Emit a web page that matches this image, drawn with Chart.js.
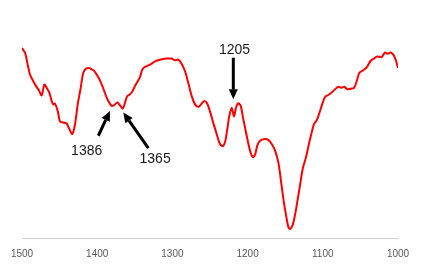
<!DOCTYPE html>
<html>
<head>
<meta charset="utf-8">
<script src="https://cdn.jsdelivr.net/npm/chart.js@4"></script>
<style>
  html, body { margin: 0; padding: 0; background: #fff; }
  #wrap { width: 427px; height: 276px; }
</style>
</head>
<body>
<div id="wrap"><canvas id="chart"></canvas></div>
<script>
// wavenumber (cm-1) and transmittance
const wavenumbers = [
  1500, 1496, 1492.4, 1489.4, 1485, 1480.5, 1477.4, 1473.8, 1470.3, 1467.2,
  1463.7, 1460.5, 1458.4, 1456.1, 1452.5, 1449.5, 1445.1, 1440.6, 1437.1, 1433.1,
  1429.5, 1425.9, 1421.9, 1418.5, 1414.9, 1410.9, 1407.3, 1404.3, 1399.3, 1394.9,
  1390.6, 1387.4, 1383.9, 1380.7, 1377.3, 1373.3, 1369.7, 1366.1, 1363, 1360,
  1356.4, 1353.3, 1349.7, 1346.1, 1343.1, 1340, 1336.4, 1329.8, 1323.1, 1316.7,
  1307.6, 1301, 1296.5, 1292.1, 1287.6, 1283.2, 1278.9, 1274.3, 1269.9, 1265.6,
  1262, 1258, 1254.4, 1250, 1245.6, 1241.1, 1236.7, 1233.1, 1230.1, 1227,
  1224.3, 1221.1, 1218.1, 1215.4, 1212.4, 1209.2, 1205.7, 1201.2, 1196.8, 1193.2,
  1190.2, 1187.1, 1183.5, 1176.9, 1172.5, 1167.9, 1163.5, 1159.2, 1156, 1152.5,
  1148.9, 1145.9, 1143.6, 1140, 1137, 1133.9, 1130.3, 1126.7, 1122.3, 1117.9,
  1114.7, 1111.7, 1108.1, 1105.1, 1101.5, 1097.1, 1092.7, 1088.2, 1083.8, 1079.4,
  1074.9, 1071.4, 1067.4, 1062.9, 1058.5, 1054.9, 1051.4, 1046.9, 1041.6, 1036.3,
  1031.9, 1027.5, 1021.7, 1017.3, 1013.7, 1009.7, 1006.3, 1003.1, 1000
];
const transmittance = [
  87.1, 85.0, 79.5, 75.0, 71.9, 69.2, 67.7, 65.4, 70.4, 68.9,
  66.7, 62.8, 61.3, 61.6, 58.3, 53.5, 53.0, 52.5, 50.0, 47.7,
  52.2, 61.3, 68.9, 75.8, 77.6, 78.0, 77.3, 76.8, 74.2, 71.2,
  67.4, 64.4, 62.1, 60.6, 61.0, 62.1, 60.9, 59.3, 62.1, 65.1,
  65.9, 67.2, 69.7, 71.9, 73.8, 77.3, 78.5, 79.5, 81.0, 81.8,
  82.3, 82.3, 81.5, 81.8, 79.8, 76.5, 71.2, 65.1, 61.3, 60.1,
  61.3, 62.8, 62.1, 58.1, 52.7, 47.7, 43.1, 42.1, 43.9, 50.0,
  56.0, 59.8, 55.7, 59.8, 61.8, 60.6, 54.5, 46.9, 40.1, 37.1,
  38.1, 42.4, 44.6, 45.4, 45.0, 43.1, 40.1, 34.8, 27.2, 18.1,
  10.5, 5.2, 4.1, 6.0, 10.5, 16.6, 24.2, 31.8, 37.1, 44.0,
  48.5, 52.2, 54.0, 56.8, 60.6, 64.7, 65.6, 66.7, 68.2, 69.4,
  68.9, 69.4, 68.2, 68.5, 68.9, 71.9, 75.8, 76.8, 78.3, 81.3,
  82.3, 83.3, 83.0, 85.1, 84.5, 85.1, 84.1, 81.8, 78.0
];
const tickValues = [1500, 1400, 1300, 1200, 1100, 1000];
const peakLabels = ["1386", "1365", "1205"];

// arrow + label placement, in data units
const peakNotes = [
  { text: peakLabels[0], tx: 1414, ty: 39.9, from: [1398.5, 46.9], to: [1383, 58.3] },
  { text: peakLabels[1], tx: 1323, ty: 36.3, from: [1332, 41.2], to: [1365.3, 57.6] },
  { text: peakLabels[2], tx: 1217.4, ty: 86.4, from: [1219, 82.7], to: [1219, 63.6] }
];

const arrowPlugin = {
  id: "peakArrows",
  afterDatasetsDraw(chart) {
    const { ctx, scales: { x, y } } = chart;
    ctx.save();
    peakNotes.forEach(n => {
      const x1 = x.getPixelForValue(n.from[0]), y1 = y.getPixelForValue(n.from[1]);
      const x2 = x.getPixelForValue(n.to[0]), y2 = y.getPixelForValue(n.to[1]);
      const ang = Math.atan2(y2 - y1, x2 - x1);
      const head = 10, half = 4.5;
      const bx = x2 - head * Math.cos(ang), by = y2 - head * Math.sin(ang);
      ctx.strokeStyle = "#000";
      ctx.fillStyle = "#000";
      ctx.lineWidth = 3;
      ctx.beginPath();
      ctx.moveTo(x1, y1);
      ctx.lineTo(bx, by);
      ctx.stroke();
      ctx.beginPath();
      ctx.moveTo(x2, y2);
      ctx.lineTo(bx + half * Math.sin(ang), by - half * Math.cos(ang));
      ctx.lineTo(bx - half * Math.sin(ang), by + half * Math.cos(ang));
      ctx.closePath();
      ctx.fill();

      ctx.font = "14px 'Liberation Sans', Arial, sans-serif";
      ctx.fillStyle = "#1a1a1a";
      ctx.textAlign = "center";
      ctx.textBaseline = "middle";
      ctx.fillText(n.text, x.getPixelForValue(n.tx), y.getPixelForValue(n.ty));
    });
    ctx.restore();
  }
};

new Chart(document.getElementById("chart"), {
  type: "line",
  data: {
    datasets: [{
      data: wavenumbers.map((w, i) => ({ x: w, y: transmittance[i] })),
      borderColor: "#ff0000",
      borderWidth: 2,
      pointRadius: 0,
      tension: 0.3,
      fill: false
    }]
  },
  options: {
    responsive: true,
    maintainAspectRatio: false,
    animation: false,
    layout: { padding: { left: 22, right: 29, top: 20, bottom: 6 } },
    plugins: { legend: { display: false }, tooltip: { enabled: false } },
    scales: {
      x: {
        type: "linear",
        reverse: true,
        min: 1000,
        max: 1500,
        afterBuildTicks: scale => { scale.ticks = tickValues.map(v => ({ value: v })); },
        grid: { display: false, drawTicks: false },
        border: { display: true, color: "#d0d0d0", width: 1 },
        ticks: {
          padding: 10,
          color: "#595959",
          maxRotation: 0,
          font: { family: "'Liberation Sans', Arial, sans-serif", size: 10 },
          callback: v => String(v)
        }
      },
      y: {
        display: false,
        min: 0,
        max: 100
      }
    }
  },
  plugins: [arrowPlugin]
});
</script>
</body>
</html>
